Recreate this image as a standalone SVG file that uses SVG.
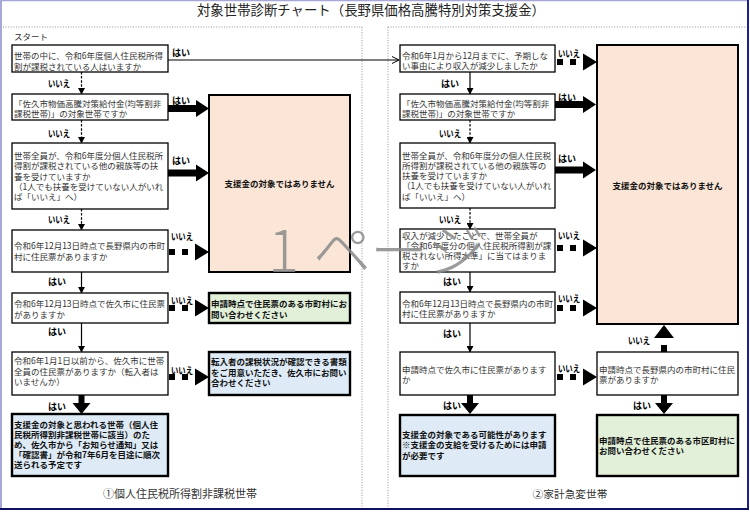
<svg xmlns="http://www.w3.org/2000/svg" xmlns:xlink="http://www.w3.org/1999/xlink" width="750" height="513" viewBox="0 0 750 513">
<style>
.box{fill:#fff;stroke:#000;stroke-width:1.3}
.res{stroke:#000;stroke-width:2.4}
.pink{fill:#fbe5d6;stroke:#000;stroke-width:2}
.blue{fill:#deebf7}
.green{fill:#e2f0d9}
text{font-family:"Noto Sans CJK JP","Noto Sans",sans-serif}
.t{font-size:8.5px;fill:#333}
.tb{font-size:8.5px;fill:#111;font-weight:bold}
.lbl{font-size:9px;font-weight:bold;fill:#000}
.thin{stroke:#000;stroke-width:1.2;fill:none}
.dash{stroke-dasharray:2.5,1.6}
.frame{fill:none;stroke:#888;stroke-width:0.9;stroke-dasharray:1,1.6}
.blk{fill:#000}
</style>
<defs>
<marker id="ah" markerWidth="7" markerHeight="7" refX="6" refY="3.5" orient="auto" markerUnits="userSpaceOnUse">
<path d="M0,0 L6.5,3.5 L0,7 Z" fill="#000"/>
</marker>
<marker id="ao" markerWidth="8" markerHeight="8" refX="7" refY="4" orient="auto" markerUnits="userSpaceOnUse">
<path d="M0,0.5 L7,4 L0,7.5" fill="none" stroke="#000" stroke-width="1"/>
</marker>
<path id="bR" d="M0,-3.5 H28 V-8.5 L41,0 L28,8.5 V3.5 H0 Z"/>
<g id="dR"><rect x="1" y="-3" width="6" height="6"/><rect x="14" y="-3" width="6" height="6"/><path d="M27,-8.5 L41,0 L27,8.5 Z"/></g>
<path id="bD" d="M-3,0 H3 V8 H9 L0,19 L-9,8 H-3 Z"/>
<g id="dU"><rect x="-3" y="-7" width="6" height="7"/><path d="M-10,-14 L0,-27 L10,-14 Z"/></g>
</defs>
<rect x="0" y="0" width="750" height="513" fill="#fff"/>
<g id="outer-frame">
<line x1="0" y1="0.6" x2="749" y2="0.6" stroke="#a8a8d8" stroke-width="1.2"/>
<line x1="1" y1="0" x2="1" y2="510" stroke="#a8a8d8" stroke-width="2"/>
<line x1="748" y1="0" x2="748" y2="510" stroke="#20208a" stroke-width="2"/>
<line x1="0" y1="509" x2="749" y2="509" stroke="#101060" stroke-width="2"/>
<line class="frame" x1="3" y1="27" x2="362" y2="27"/>
<line class="frame" x1="362" y1="27" x2="362" y2="508"/>
<line class="frame" x1="388" y1="27" x2="747" y2="27"/>
<line class="frame" x1="388" y1="27" x2="388" y2="508"/>
</g>
<text x="371" y="15" text-anchor="middle" style="font-size:13.4px;fill:#222">対象世帯診断チャート（長野県価格高騰特別対策支援金）</text>
<text x="14" y="40" style="font-size:8.5px;fill:#333">スタート</text>

<g id="connectors">
<line class="thin" x1="168" y1="60" x2="399" y2="60" marker-end="url(#ao)"/>
<line class="thin dash" x1="81.5" y1="72" x2="81.5" y2="94" marker-end="url(#ah)"/>
<line class="thin dash" x1="81.5" y1="120" x2="81.5" y2="143" marker-end="url(#ah)"/>
<line class="thin dash" x1="81.5" y1="209" x2="81.5" y2="230" marker-end="url(#ah)"/>
<line class="thin" x1="81.5" y1="272" x2="81.5" y2="293" marker-end="url(#ah)"/>
<line class="thin" x1="81.5" y1="323" x2="81.5" y2="352" marker-end="url(#ah)"/>
<use xlink:href="#bD" class="blk" transform="translate(81.5,395)"/>
<use xlink:href="#bR" class="blk" transform="translate(168,108.5)"/>
<use xlink:href="#bR" class="blk" transform="translate(168,173)"/>
<use xlink:href="#dR" class="blk" transform="translate(168,252)"/>
<use xlink:href="#dR" class="blk" transform="translate(168,308)"/>
<use xlink:href="#dR" class="blk" transform="translate(168,377)"/>

<line class="thin" x1="470" y1="72" x2="470" y2="94" marker-end="url(#ah)"/>
<line class="thin dash" x1="470" y1="120" x2="470" y2="143" marker-end="url(#ah)"/>
<line class="thin dash" x1="470" y1="208" x2="470" y2="229" marker-end="url(#ah)"/>
<line class="thin" x1="470" y1="272" x2="470" y2="292" marker-end="url(#ah)"/>
<line class="thin" x1="470" y1="323" x2="470" y2="352" marker-end="url(#ah)"/>
<use xlink:href="#bD" class="blk" transform="translate(470,395)"/>
<use xlink:href="#bD" class="blk" transform="translate(664,395)"/>
<use xlink:href="#dU" class="blk" transform="translate(664,352)"/>
<use xlink:href="#dR" class="blk" transform="translate(556,62)"/>
<use xlink:href="#bR" class="blk" transform="translate(555,104.5)"/>
<use xlink:href="#bR" class="blk" transform="translate(555,170)"/>
<use xlink:href="#dR" class="blk" transform="translate(556,248)"/>
<use xlink:href="#dR" class="blk" transform="translate(556,308)"/>
<use xlink:href="#dR" class="blk" transform="translate(556,377)"/>
</g>

<g id="edge-labels">
<text class="lbl" x="172" y="56">はい</text>
<text class="lbl" x="48" y="86.5" textLength="22" lengthAdjust="spacingAndGlyphs">いいえ</text>
<text class="lbl" x="172" y="103.5">はい</text>
<text class="lbl" x="48" y="136.5" textLength="22" lengthAdjust="spacingAndGlyphs">いいえ</text>
<text class="lbl" x="172" y="163.5">はい</text>
<text class="lbl" x="48" y="222.8" textLength="22" lengthAdjust="spacingAndGlyphs">いいえ</text>
<text class="lbl" x="171" y="240" textLength="22" lengthAdjust="spacingAndGlyphs">いいえ</text>
<text class="lbl" x="48" y="285">はい</text>
<text class="lbl" x="171" y="303.5" textLength="22" lengthAdjust="spacingAndGlyphs">いいえ</text>
<text class="lbl" x="48" y="335">はい</text>
<text class="lbl" x="171" y="373.5" textLength="22" lengthAdjust="spacingAndGlyphs">いいえ</text>
<text class="lbl" x="48" y="409.5">はい</text>

<text class="lbl" x="558" y="56.5" textLength="22" lengthAdjust="spacingAndGlyphs">いいえ</text>
<text class="lbl" x="441" y="86.5">はい</text>
<text class="lbl" x="558" y="100.5">はい</text>
<text class="lbl" x="439" y="136.5" textLength="22" lengthAdjust="spacingAndGlyphs">いいえ</text>
<text class="lbl" x="558" y="161.5">はい</text>
<text class="lbl" x="439" y="222.5" textLength="22" lengthAdjust="spacingAndGlyphs">いいえ</text>
<text class="lbl" x="558" y="238.5" textLength="22" lengthAdjust="spacingAndGlyphs">いいえ</text>
<text class="lbl" x="443" y="285">はい</text>
<text class="lbl" x="558" y="301.5" textLength="22" lengthAdjust="spacingAndGlyphs">いいえ</text>
<text class="lbl" x="443" y="336.5">はい</text>
<text class="lbl" x="558" y="371.5" textLength="22" lengthAdjust="spacingAndGlyphs">いいえ</text>
<text class="lbl" x="628" y="343.5" textLength="22" lengthAdjust="spacingAndGlyphs">いいえ</text>
<text class="lbl" x="443" y="408.5">はい</text>
<text class="lbl" x="633" y="408.5">はい</text>
</g>

<g id="L1"><rect class="box" x="12" y="45" width="156" height="27"/>
<text class="t" x="14" y="59">世帯の中に、令和6年度個人住民税所得</text>
<text class="t" x="14" y="69.5">割が課税されている人はいますか</text></g>
<g id="L2"><rect class="box" x="12" y="94" width="156" height="26"/>
<text class="t" x="14" y="106.5">「佐久市物価高騰対策給付金(均等割非</text>
<text class="t" x="14" y="117">課税世帯)」の対象世帯ですか</text></g>
<g id="L3"><rect class="box" x="12" y="143" width="156" height="66"/>
<text class="t" x="14" y="159">世帯全員が、令和6年度分個人住民税所</text>
<text class="t" x="14" y="169.3">得割が課税されている他の親族等の扶</text>
<text class="t" x="14" y="179.6">養を受けていますか</text>
<text class="t" x="14" y="189.9">（1人でも扶養を受けていない人がいれ</text>
<text class="t" x="14" y="200.2">ば「いいえ」へ）</text></g>
<g id="L4"><rect class="box" x="12" y="230" width="156" height="42"/>
<text class="t" x="14" y="249">令和6年12月13日時点で長野県内の市町</text>
<text class="t" x="14" y="260">村に住民票がありますか</text></g>
<g id="L5"><rect class="box" x="12" y="293" width="156" height="30"/>
<text class="t" x="14" y="307">令和6年12月13日時点で佐久市に住民票</text>
<text class="t" x="14" y="317.5">がありますか</text></g>
<g id="L6"><rect class="box" x="12" y="352" width="156" height="43"/>
<text class="t" x="14" y="364">令和6年1月1日以前から、佐久市に世帯</text>
<text class="t" x="14" y="374.5">全員の住民票がありますか（転入者は</text>
<text class="t" x="14" y="385">いませんか）</text></g>
<g id="L7"><rect class="blue res" x="12" y="414" width="156" height="62"/>
<text class="tb" x="14" y="427.5">支援金の対象と思われる世帯（個人住</text>
<text class="tb" x="14" y="437.7">民税所得割非課税世帯に該当）のた</text>
<text class="tb" x="14" y="447.9">め、佐久市から「お知らせ通知」又は</text>
<text class="tb" x="14" y="458.1">「確認書」が令和7年6月を目途に順次</text>
<text class="tb" x="14" y="468.3">送られる予定です</text></g>
<g id="LP"><rect class="pink" x="209" y="95" width="141" height="177"/>
<text class="tb" x="279.5" y="186.5" text-anchor="middle">支援金の対象ではありません</text></g>
<g id="LG"><rect class="green res" x="209" y="293" width="141" height="30"/>
<text class="tb" x="211" y="306.5">申請時点で住民票のある市町村にお</text>
<text class="tb" x="211" y="317.5">問い合わせください</text></g>
<g id="LB"><rect class="blue res" x="209" y="352" width="141" height="43"/>
<text class="tb" x="211" y="365">転入者の課税状況が確認できる書類</text>
<text class="tb" x="211" y="375.5">をご用意いただき、佐久市にお問い</text>
<text class="tb" x="211" y="386">合わせください</text></g>

<g id="R1"><rect class="box" x="400" y="45" width="155" height="27"/>
<text class="t" x="402" y="58.5">令和6年1月から12月までに、予期しな</text>
<text class="t" x="402" y="69">い事由により収入が減少しましたか</text></g>
<g id="R2"><rect class="box" x="400" y="94" width="155" height="26"/>
<text class="t" x="402" y="106.5">「佐久市物価高騰対策給付金(均等割非</text>
<text class="t" x="402" y="117">課税世帯)」の対象世帯ですか</text></g>
<g id="R3"><rect class="box" x="400" y="143" width="155" height="65"/>
<text class="t" x="402" y="158.5">世帯全員が、令和6年度分の個人住民税</text>
<text class="t" x="402" y="168.8">所得割が課税されている他の親族等の</text>
<text class="t" x="402" y="179.1">扶養を受けていますか</text>
<text class="t" x="402" y="189.4">（1人でも扶養を受けていない人がいれ</text>
<text class="t" x="402" y="199.7">ば「いいえ」へ）</text></g>
<g id="R4"><rect class="box" x="400" y="229" width="155" height="43"/>
<text class="t" x="402" y="238.5">収入が減少したことで、世帯全員が</text>
<text class="t" x="402" y="248.5">「令和6年度分の個人住民税所得割が課</text>
<text class="t" x="402" y="258.5">税されない所得水準」に当てはまりま</text>
<text class="t" x="402" y="268.5">すか</text></g>
<g id="R5"><rect class="box" x="400" y="292" width="155" height="31"/>
<text class="t" x="402" y="306.5">令和6年12月13日時点で長野県内の市町</text>
<text class="t" x="402" y="316.5">村に住民票がありますか</text></g>
<g id="R6"><rect class="box" x="400" y="352" width="155" height="43"/>
<text class="t" x="402" y="373">申請時点で佐久市に住民票があります</text>
<text class="t" x="402" y="383">か</text></g>
<g id="R7"><rect class="box" x="597" y="352" width="141" height="43"/>
<text class="t" x="599" y="373">申請時点で長野県内の市町村に住民</text>
<text class="t" x="599" y="383">票がありますか</text></g>
<g id="RP"><rect class="pink" x="597" y="45" width="141" height="279"/>
<text class="tb" x="667.5" y="188.5" text-anchor="middle">支援金の対象ではありません</text></g>
<g id="R8"><rect class="blue res" x="400" y="415" width="155" height="61"/>
<text class="tb" x="402" y="438">支援金の対象である可能性があります</text>
<text class="tb" x="402" y="448.3">※支援金の支給を受けるためには申請</text>
<text class="tb" x="402" y="458.6">が必要です</text></g>
<g id="R9"><rect class="green res" x="597" y="415" width="141" height="61"/>
<text class="tb" x="599" y="443.5">申請時点で住民票のある市区町村に</text>
<text class="tb" x="599" y="454">お問い合わせください</text></g>

<text x="180" y="498" text-anchor="middle" style="font-size:11px;fill:#333">①個人住民税所得割非課税世帯</text>
<text x="570" y="498" text-anchor="middle" style="font-size:10.7px;fill:#333">②家計急変世帯</text>

<text x="268 313 370 427" y="272" style="font-size:58px;fill:#8a8a8a;font-weight:200;opacity:0.85">1ページ</text>
</svg>
